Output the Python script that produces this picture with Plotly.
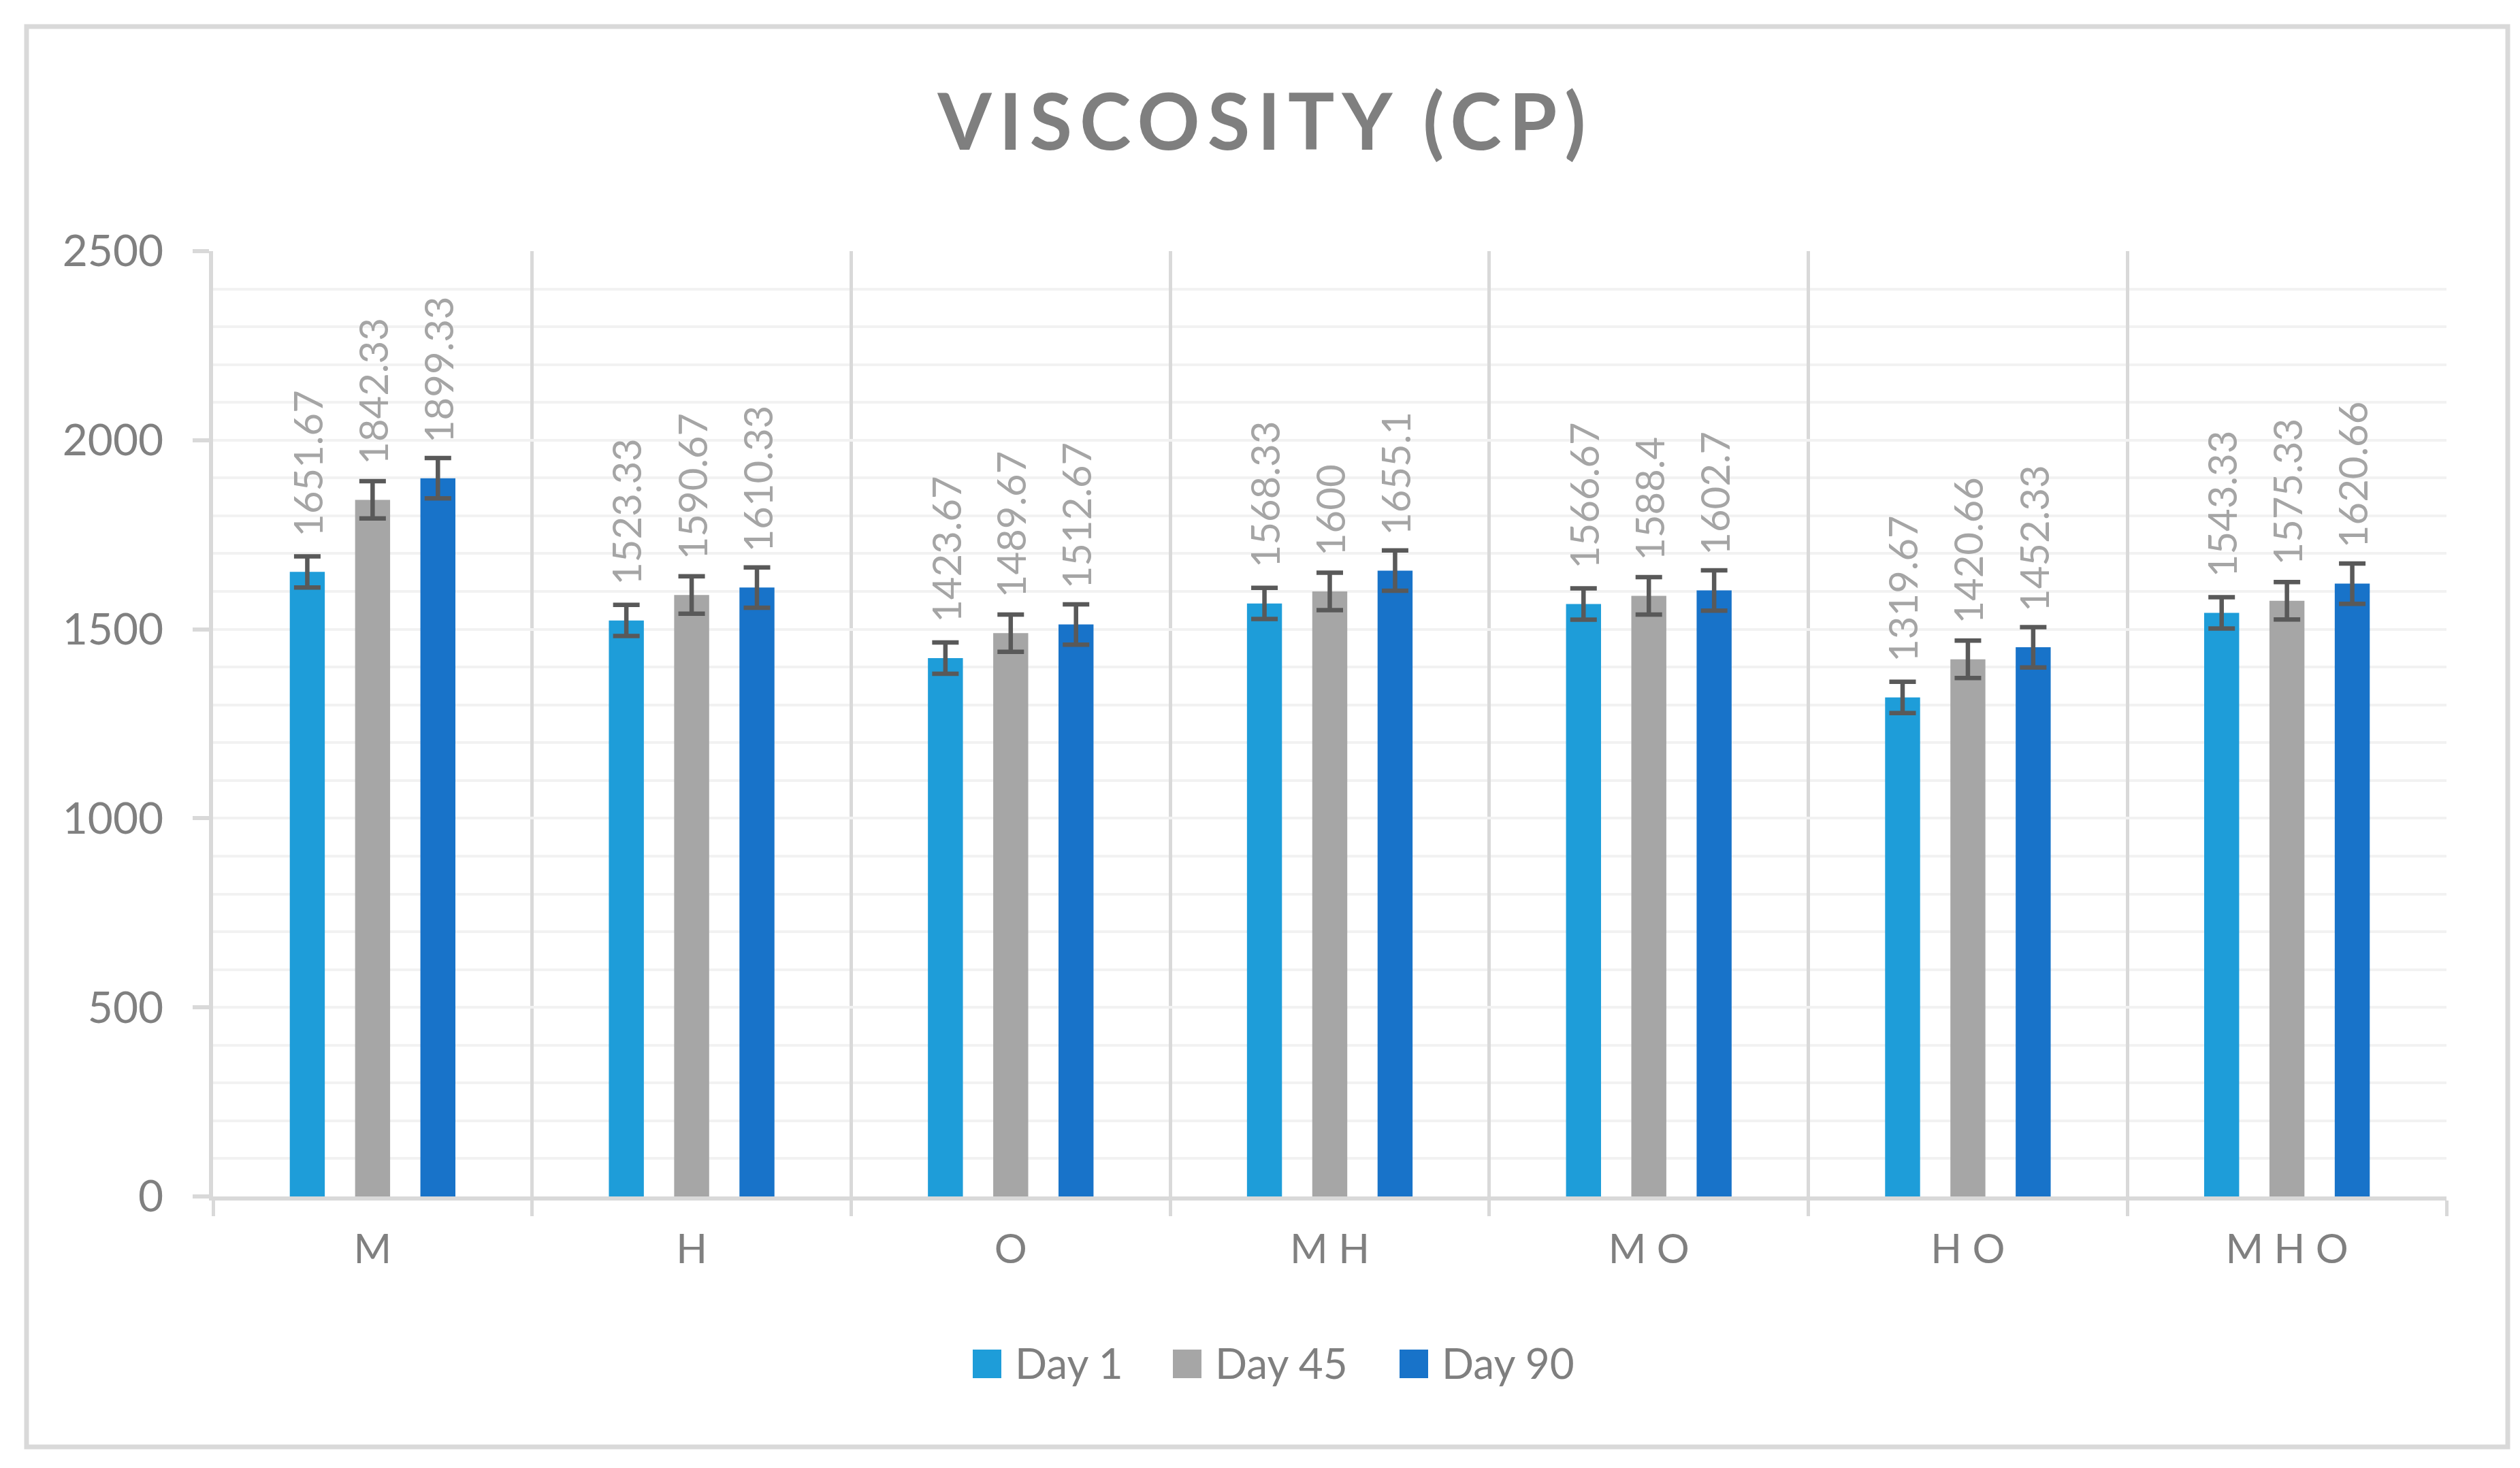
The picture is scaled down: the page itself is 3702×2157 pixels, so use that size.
import plotly.graph_objects as go

# ---------------- data ----------------
categories = ["M", "H", "O", "M H", "M O", "H O", "M H O"]
series_names = ["Day 1", "Day 45", "Day 90"]
day1 = [1651.67, 1523.33, 1423.67, 1568.33, 1566.67, 1319.67, 1543.33]
day45 = [1842.33, 1590.67, 1489.67, 1600, 1588.4, 1420.66, 1575.33]
day90 = [1899.33, 1610.33, 1512.67, 1655.1, 1602.7, 1452.33, 1620.66]
# standard-error bars (constant per series)
err_day1 = 41.3
err_day45 = 49.4
err_day90 = 53.3
y_ticks = [0, 500, 1000, 1500, 2000, 2500]

# ---------------- style ----------------
W, H = 3702, 2157
L, R, T, B = 305, 116, 361, 407
PW, PH = W - L - R, H - T - B
colors = ["#1E9DD9", "#A6A6A6", "#1873C9"]
FONT = "Lato"
BARGAP = 0.386
BARGROUPGAP = 0.464

def px(xp):
    return (xp - L) / PW

def py(yp):
    return (H - B - yp) / PH

fig = go.Figure()
series_vals = [day1, day45, day90]
series_err = [err_day1, err_day45, err_day90]
for name, vals, err, col in zip(series_names, series_vals, series_err, colors):
    fig.add_trace(go.Bar(
        name=name, x=categories, y=vals, marker=dict(color=col, line=dict(width=0)),
        error_y=dict(type="constant", value=err, color="#595959", thickness=6.5, width=19.5),
        showlegend=False, hoverinfo="x+y",
    ))

annotations = []
cat_w = PW / len(categories)
slot = cat_w * (1 - BARGAP) / len(series_names)
for si, vals in enumerate(series_vals):
    for c, v in zip(categories, vals):
        annotations.append(dict(
            x=c, y=v, xref="x", yref="y", text=f"{v:g}", textangle=-90,
            showarrow=False, xanchor="center", yanchor="bottom",
            xshift=(si - 1) * slot, yshift=50,
            font=dict(family=FONT, size=58, color="#A5A5A5"),
        ))

# manual legend (large square swatches)
shapes = []
legend_x = [1421, 1715, 2048]
for name, col, lx in zip(series_names, colors, legend_x):
    shapes.append(dict(type="rect", xref="paper", yref="paper",
                       x0=px(lx), x1=px(lx + 42), y0=py(2017), y1=py(1975),
                       fillcolor=col, line=dict(width=0)))
    annotations.append(dict(x=px(lx + 60), y=py(1994), xref="paper", yref="paper",
                            text=name, showarrow=False, xanchor="left", yanchor="middle",
                            font=dict(family=FONT, size=62, color="#7F7F7F")))

# chart border
shapes.append(dict(type="rect", xref="paper", yref="paper", layer="below",
                   x0=px(31), x1=px(3676), y0=py(2118), y1=py(31),
                   line=dict(color="#D9D9D9", width=7), fillcolor="rgba(0,0,0,0)"))

fig.update_layout(
    width=W, height=H, autosize=False,
    margin=dict(l=L, r=R, t=T, b=B),
    paper_bgcolor="white", plot_bgcolor="white",
    barmode="group", bargap=BARGAP, bargroupgap=BARGROUPGAP,
    showlegend=False,
    title=dict(
        text='<span style="letter-spacing:11px">VISCOSITY (CP)</span>',
        x=0.5, xref="container", xanchor="center",
        y=1 - 172 / H, yref="container", yanchor="middle",
        font=dict(family=FONT, size=114, color="#7F7F7F", weight="bold"),
    ),
    xaxis=dict(
        type="category", tickson="boundaries",
        showgrid=True, gridcolor="#D9D9D9", gridwidth=5,
        ticks="outside", ticklen=23, tickwidth=5, tickcolor="#D9D9D9",
        showline=True, linecolor="#D9D9D9", linewidth=6,
        tickfont=dict(family=FONT, size=60, color="#808080"),
        ticklabelstandoff=20,
    ),
    yaxis=dict(
        range=[0, 2500], tickvals=y_ticks,
        showline=True, linecolor="#D9D9D9", linewidth=6, mirror=False,
        ticks="outside", ticklen=24, tickwidth=6, tickcolor="#D9D9D9",
        showgrid=True, gridcolor="#F2F2F2", gridwidth=4, zeroline=False,
        minor=dict(dtick=100, tick0=0, showgrid=True, gridcolor="#F2F2F2", gridwidth=4, ticks=""),
        tickfont=dict(family=FONT, size=64, color="#808080"),
        ticklabelstandoff=30,
    ),
    annotations=annotations,
    shapes=shapes,
)

fig.write_html("out.html")
